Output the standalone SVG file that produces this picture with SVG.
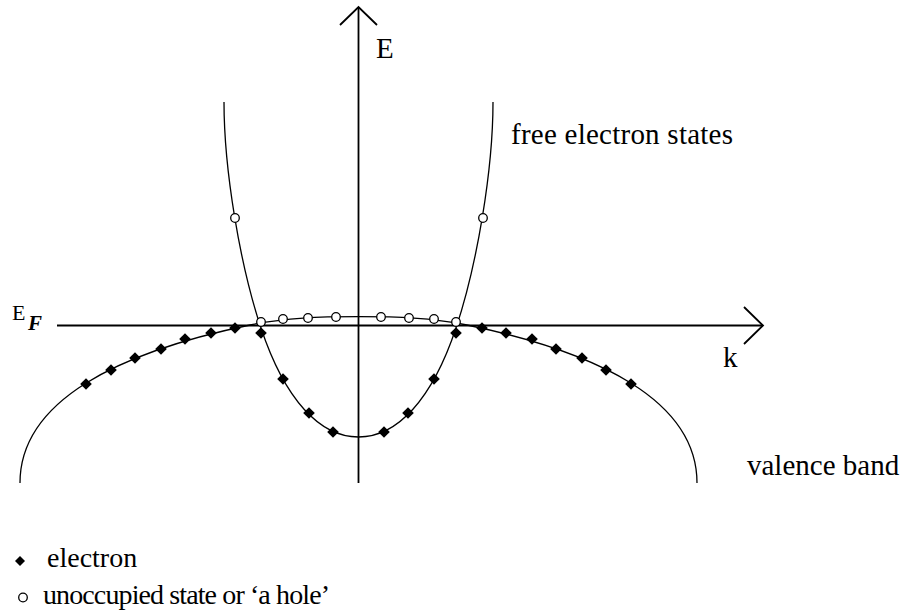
<svg xmlns="http://www.w3.org/2000/svg" width="906" height="614" viewBox="0 0 906 614">
<style>
.axis{stroke:#000;stroke-width:1.8;fill:none}
.curve{stroke:#000;stroke-width:1.3;fill:none}
.lbl{font-family:"Liberation Serif","Times New Roman",serif;fill:#000}
</style>
<defs>
<path id="dia" d="M0,-5.8 L5.8,0 L0,5.8 L-5.8,0 Z" fill="#000"/>
<circle id="cir" r="4.3" fill="#fff" stroke="#000" stroke-width="1.3"/>
</defs>
<rect width="906" height="614" fill="#fff"/>
<g id="axes">
<line class="axis" x1="358.5" y1="483" x2="358.5" y2="7"/>
<polyline class="axis" points="340,25 358.5,7 377,25"/>
<line class="axis" x1="57" y1="325.5" x2="763" y2="325.5"/>
<polyline class="axis" points="744,307 763,325.5 744,344"/>
</g>
<g id="curves">
<path id="valence-band" class="curve" d="M20,483 C20,400 120,352 250,325 C286,317.5 320,316.7 358.5,316.7 C397,316.7 431,317.5 467,325 C597,352 697,400 697,483"/>
<path id="free-electron" class="curve" d="M224,102 C224,170 240,265 261,328 C285,400 320,437 358.5,437 C397,437 432,400 456,328 C477,265 493,170 493,102"/>
</g>
<g id="electrons">
<use href="#dia" x="86" y="384"/>
<use href="#dia" x="111" y="370"/>
<use href="#dia" x="135" y="358"/>
<use href="#dia" x="161" y="349"/>
<use href="#dia" x="185" y="339"/>
<use href="#dia" x="211" y="333"/>
<use href="#dia" x="235" y="328"/>
<use href="#dia" x="482" y="328"/>
<use href="#dia" x="506" y="333"/>
<use href="#dia" x="532" y="339"/>
<use href="#dia" x="556" y="349"/>
<use href="#dia" x="582" y="358"/>
<use href="#dia" x="606" y="370"/>
<use href="#dia" x="631" y="384"/>
<use href="#dia" x="261" y="333"/>
<use href="#dia" x="283" y="379"/>
<use href="#dia" x="309" y="413"/>
<use href="#dia" x="333" y="432"/>
<use href="#dia" x="384" y="432"/>
<use href="#dia" x="408" y="413"/>
<use href="#dia" x="434" y="379"/>
<use href="#dia" x="456" y="333"/>
</g>
<g id="holes">
<use href="#cir" x="235" y="218"/>
<use href="#cir" x="483" y="218"/>
<use href="#cir" x="261" y="322"/>
<use href="#cir" x="283" y="319"/>
<use href="#cir" x="308" y="318"/>
<use href="#cir" x="336" y="317"/>
<use href="#cir" x="381" y="317"/>
<use href="#cir" x="409" y="318"/>
<use href="#cir" x="434" y="319"/>
<use href="#cir" x="456" y="322"/>
</g>
<g id="labels" class="lbl">
<text x="376" y="58" font-size="29">E</text>
<text x="511" y="144" font-size="29" textLength="222" lengthAdjust="spacing">free electron states</text>
<text x="12" y="320" font-size="22">E<tspan x="28" y="330" font-size="21" font-style="italic" font-weight="bold">F</tspan></text>
<text x="723" y="367" font-size="29">k</text>
<text x="747" y="475" font-size="29">valence band</text>
</g>
<g id="legend" class="lbl">
<path d="M20,556 L25,561 L20,566 L15,561 Z"/>
<text x="47" y="567" font-size="28">electron</text>
<use href="#cir" x="23" y="597.5"/>
<text x="43" y="604" font-size="28" textLength="287" lengthAdjust="spacing">unoccupied state or &#8216;a hole&#8217;</text>
</g>
</svg>
